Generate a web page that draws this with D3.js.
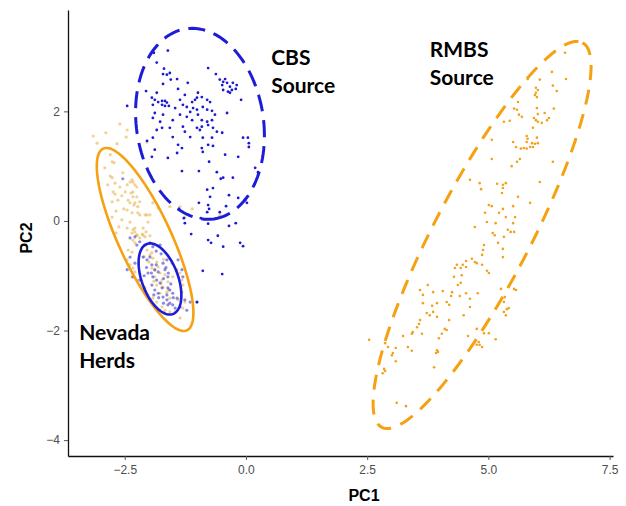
<!DOCTYPE html>
<html>
<head>
<meta charset="utf-8">
<script src="https://cdn.jsdelivr.net/npm/d3@7"></script>
<style>
  body { margin: 0; background: #fff; }
</style>
</head>
<body>
<div id="my_dataviz"></div>
<script>
// ---- data (PC1, PC2) ----
var cbsPoints = [
  [-1.90,3.07],[-1.61,3.11],[-1.84,2.89],[-0.78,2.79],[-1.69,2.78],[-1.71,2.68],[-1.63,2.67],[-1.57,2.70],[-1.55,2.58],[-1.42,2.59],
  [-1.20,2.52],[-1.71,2.50],[-0.62,2.68],[-0.54,2.58],[-0.47,2.54],[-0.43,2.59],[-0.49,2.48],[-0.39,2.52],[-0.33,2.45],[-0.27,2.52],
  [-0.19,2.48],[-0.47,2.39],[-0.37,2.36],[-0.29,2.39],[-0.21,2.41],[-0.33,2.34],[-2.06,2.37],[-1.84,2.34],[-1.40,2.41],[-0.99,2.34],
  [-0.91,2.26],[-1.01,2.25],[-0.80,2.21],[-0.74,2.17],[-1.94,2.25],[-1.88,2.21],[-1.81,2.17],[-1.73,2.19],[-1.67,2.19],[-1.63,2.16],
  [-1.73,2.12],[-1.67,2.10],[-1.59,2.10],[-1.92,2.12],[-1.30,2.12],[-1.22,2.08],[-1.11,2.17],[-1.09,2.06],[-1.01,2.03],[-0.89,2.08],
  [-0.80,2.03],[-0.70,2.01],[-0.10,2.21],[-0.39,1.97],[-1.88,1.97],[-1.71,1.94],[-1.51,1.84],[-1.36,1.94],[-1.22,1.90],[-1.11,1.84],
  [-0.99,1.94],[-0.91,1.84],[-0.80,1.81],[-0.70,1.84],[-1.92,1.88],[-1.77,1.81],[-1.30,1.72],[-1.01,1.70],[-0.91,1.72],[-0.78,1.75],
  [-0.68,1.70],[-1.84,1.66],[-1.73,1.70],[-0.60,1.63],[-0.49,1.61],[-1.92,1.52],[-1.51,1.53],[-1.15,1.53],[-0.89,1.52],[-0.70,1.52],
  [-0.06,1.52],[0.04,1.52],[-1.26,2.30],[-1.15,1.99],[-1.05,2.21],[-1.46,2.06],[-0.95,1.66],[-1.26,1.63],[-1.57,1.70],[-0.64,1.94],
  [-1.36,2.21],[-2.04,1.46],[-1.40,1.39],[-1.32,1.33],[-1.42,1.24],[-0.91,1.33],[-0.89,1.26],[-0.78,1.39],[-0.68,1.37],[0.06,1.42],
  [0.06,1.35],[-1.88,1.30],[-1.61,1.15],[-1.94,1.17],[-0.43,1.21],[-0.16,1.17],[-0.76,1.08],[-1.32,0.91],[-0.97,0.91],[-0.60,0.89],
  [-0.52,0.77],[-0.47,0.79],[-0.27,0.79],[0.19,0.97],[0.25,0.89],[-0.80,0.57],[-0.68,0.60],[-0.74,0.44],[-0.35,0.47],[-0.16,0.42],
  [-0.97,0.33],[-0.78,0.29],[-0.41,0.27],[-0.02,0.38],[0.02,0.33],[-1.38,0.22],[-0.80,0.16],[-0.76,0.22],[-1.28,0.05],[-1.26,-0.04],
  [-0.93,0.05],[-0.54,0.16],[-0.78,-0.05],[-0.35,-0.09],[-0.21,-0.04],[-1.13,-0.24],[-0.58,-0.27],[-0.78,-0.35],[-0.72,-0.40],[-0.12,-0.40],
  [-0.06,-0.46],[-0.47,-0.47],[-0.89,-0.91],[-0.49,-0.97],[-1.01,-1.48],[-2.45,2.10]
];

var rmbsPoints = [
  [6.58,3.07],[6.60,2.59],[6.31,2.72],[6.33,2.47],[6.41,2.37],[5.81,2.59],[6.06,2.58],[5.98,2.43],[6.02,2.39],[5.98,2.34],
  [5.96,2.30],[6.00,2.26],[5.61,2.17],[5.53,2.05],[5.59,2.03],[5.63,1.94],[5.69,1.90],[5.32,1.81],[5.44,1.83],[6.00,2.06],
  [6.02,1.95],[5.94,1.88],[5.98,1.84],[6.02,1.81],[6.10,1.79],[6.16,1.97],[6.21,1.84],[6.25,1.88],[6.35,2.05],[5.92,1.70],
  [5.07,1.48],[5.79,1.55],[5.81,1.50],[5.79,1.44],[5.90,1.42],[6.00,1.52],[6.02,1.42],[5.51,1.44],[5.57,1.35],[5.67,1.32],
  [5.73,1.33],[5.79,1.32],[5.86,1.35],[5.92,1.35],[5.96,1.41],[5.07,1.13],[5.65,1.13],[5.59,1.08],[5.48,1.00],[6.33,1.08],
  [4.62,0.75],[4.82,0.69],[4.85,0.58],[5.18,0.68],[5.30,0.66],[5.36,0.69],[5.30,0.60],[5.28,0.51],[6.06,0.71],[5.61,0.44],
  [5.86,0.33],[5.01,0.29],[5.07,0.27],[4.93,0.15],[5.22,0.15],[5.30,0.22],[5.51,0.27],[5.36,0.07],[5.55,0.07],[4.97,-0.02],
  [5.15,-0.04],[5.51,-0.04],[4.72,-0.11],[5.40,-0.16],[5.46,-0.20],[5.53,-0.20],[5.09,-0.22],[5.13,-0.26],[5.32,-0.29],[5.20,-0.40],
  [4.91,-0.44],[4.89,-0.53],[4.87,-0.62],[5.30,-0.51],[5.30,-0.66],[4.66,-0.69],[4.72,-0.75],[4.54,-0.73],[4.47,-0.80],[4.43,-0.86],
  [4.35,-0.80],[4.31,-0.86],[4.76,-0.77],[4.87,-0.80],[4.97,-0.91],[5.01,-0.95],[4.54,-0.84],[4.45,-0.99],[4.29,-1.02],[4.37,-1.17],
  [4.43,-1.13],[3.75,-1.17],[3.59,-1.26],[3.65,-1.35],[3.86,-1.30],[4.06,-1.28],[4.25,-1.30],[4.23,-1.37],[4.41,-1.37],[4.54,-1.32],
  [4.62,-1.42],[4.78,-1.32],[4.62,-1.57],[3.65,-1.50],[3.84,-1.55],[3.94,-1.50],[4.14,-1.48],[4.19,-1.53],[3.73,-1.68],[3.79,-1.72],
  [3.86,-1.66],[3.94,-1.75],[4.19,-1.81],[4.49,-1.72],[3.59,-1.81],[3.57,-1.88],[3.53,-1.94],[3.44,-2.03],[3.42,-2.06],[3.63,-2.06],
  [4.10,-1.97],[4.14,-1.99],[4.04,-2.06],[3.98,-2.14],[4.58,-2.10],[4.76,-1.97],[3.24,-2.10],[3.34,-2.30],[3.42,-2.37],[3.94,-2.36],
  [3.96,-2.39],[3.92,-2.41],[3.09,-2.32],[3.03,-2.41],[3.01,-2.45],[3.09,-2.56],[2.87,-2.23],[2.93,-2.30],[2.54,-2.17],[4.80,-2.21],
  [4.82,-2.26],[4.91,-2.05],[5.01,-2.05],[5.15,-2.16],[4.76,-2.26],[4.87,-2.30],[3.88,-2.67],[2.85,-2.70],[2.87,-2.74],[2.82,-2.78],
  [5.32,-1.66],[5.36,-1.72],[5.38,-1.61],[5.42,-1.59],[5.53,-1.24],[5.57,-1.26],[5.34,-1.39],[5.32,-1.48],[5.26,-1.24],[3.11,-3.32],
  [3.30,-3.38]
];

// Nevada herds, orange group (drawn semi transparent)
var nevadaOrangePoints = [
  [-2.60,1.77],[-2.89,1.61],[-3.15,1.55],[-2.45,1.66],[-3.07,1.42],[-2.66,1.41],[-2.47,1.53],[-2.04,1.44],[-2.80,1.21],[-2.76,1.08],
  [-2.72,1.06],[-2.91,0.97],[-2.54,0.88],[-2.80,0.82],[-2.76,0.79],[-2.39,0.71],[-2.33,0.71],[-2.70,0.69],[-2.85,0.66],[-2.60,0.62],
  [-2.45,0.66],[-2.25,0.62],[-2.74,0.53],[-2.70,0.49],[-2.49,0.53],[-2.37,0.51],[-2.56,0.46],[-2.33,0.44],[-2.64,0.38],[-2.43,0.38],
  [-2.39,0.33],[-2.76,0.35],[-2.29,0.33],[-2.52,0.22],[-2.45,0.20],[-2.23,0.26],[-2.68,0.18],[-2.35,0.15],[-2.19,0.11],[-2.04,0.11],
  [-1.98,0.11],[-2.76,0.07],[-2.56,0.02],[-2.39,-0.02],[-2.62,-0.11],[-2.45,-0.13],[-2.33,-0.16],[-2.12,-0.13],[-2.68,-0.22],[-2.25,-0.26],
  [-1.98,-0.27],[-2.35,0.75],[-2.29,0.66],[-2.33,0.53],[-2.25,0.44],[-2.19,0.35],[-2.31,0.29],[-2.08,0.11],[-2.02,-0.02],[-2.23,0.15],
  [-2.29,-0.13],[-2.35,-0.22],[-2.12,-0.26],[-2.19,-0.31],[-2.06,-0.20],[-1.92,0.33],[-1.81,0.24],[-1.57,0.26],[-1.36,0.26],[-1.26,0.07],
  [-1.11,0.22],[-0.54,0.11],[-2.29,-0.20],[-2.25,-0.26],[-2.14,-0.24],[-2.08,-0.29],[-2.33,-0.35],[-2.29,-0.40],[-2.43,-0.53],[-2.35,-0.57],
  [-2.45,-0.71],[-2.39,-0.80],[-2.33,-0.86],[-2.29,-0.93],[-2.35,-1.02],[-2.25,-1.08],[-2.19,-1.17],[-2.08,-1.22],[-2.02,-1.35],[-1.92,-1.41],
  [-1.84,-1.48],[-1.73,-1.57],[-1.67,-1.63],[-1.57,-1.66],[-1.46,-1.66],[-2.04,-0.53],[-1.94,-0.58],[-1.92,-0.68],[-2.00,-0.75],[-1.84,-0.75],
  [-1.81,-0.84],[-1.94,-0.86],[-1.77,-0.95],[-1.88,-1.02],[-1.73,-1.08],[-1.84,-1.17],[-1.71,-1.21],[-1.61,-1.11],[-1.63,-1.30],[-1.77,-1.32],
  [-1.57,-1.41],[-1.51,-1.02],[-1.42,-0.89],[-1.53,-0.77],[-1.32,-1.08],[-1.36,-0.95],[-1.30,-1.17],[-1.32,-1.30],[-1.40,-1.44],[-1.26,-1.48],
  [-1.30,-1.59],[-1.36,-1.77],[-1.98,-0.62],[-1.88,-0.90],[-1.67,-0.98],[-1.75,-1.15],[-1.90,-1.10],[-1.60,-1.25],[-2.10,-0.65],[-1.70,-0.70]
];

// Nevada herds, blue group (drawn semi transparent)
var nevadaBluePoints = [
  [-2.25,-0.44],[-2.19,-0.38],[-2.08,-0.44],[-1.98,-0.40],[-1.92,-0.47],[-1.77,-0.44],[-2.12,-0.66],[-2.04,-0.71],[-1.98,-0.66],[-1.94,-0.80],
  [-1.88,-0.89],[-1.81,-0.93],[-2.02,-0.95],[-1.92,-1.02],[-1.84,-1.08],[-1.77,-1.13],[-1.73,-1.22],[-1.94,-1.17],[-1.88,-1.26],[-1.81,-1.32],
  [-1.71,-1.39],[-1.63,-1.44],[-1.57,-1.50],[-1.51,-1.53],[-1.63,-1.35],[-1.51,-1.32],[-1.57,-1.26],[-1.61,-1.02],[-1.67,-0.89],[-1.71,-0.77],
  [-1.63,-0.71],[-1.61,-1.22],[-2.39,-0.66],[-2.29,-0.77],[-2.45,-0.89],[-2.33,-1.02],[-2.19,-1.08],[-1.40,-0.71],[-1.32,-0.89],[-1.30,-1.02],
  [-1.42,-1.41],[-1.26,-1.44],[-1.15,-1.48],[-1.01,-1.48],[-1.61,-1.53],[-1.46,-1.59],[-1.36,-1.57],[-1.22,-1.63],[-2.29,-0.29],[-2.39,-0.31],
  [-2.54,0.77],[-1.85,-0.55],[-1.75,-0.60],[-1.95,-0.95],[-1.70,-1.05],[-1.80,-1.40],[-1.55,-1.15],[-1.65,-0.85],[-2.05,-0.85],[-1.90,-1.35],
  [-1.50,-1.40],[-1.70,-1.50],[-2.10,-1.00],[-1.85,-0.80],[-1.60,-0.95]
];

// ellipses: center, first and second semi-axis vectors (data units)
var ellipseCenters = [[-0.948, 1.772], [4.87, -0.256], [-2.08, -0.338], [-1.773, -1.059]];
var ellipseAxisA   = [[0.289, -1.735], [2.07, 3.51], [0.864, -1.658], [0.268, -0.639]];
var ellipseAxisB   = [[1.297, 0.170], [0.877, -0.406], [0.496, 0.203], [0.350, 0.115]];
var ellipseColors  = ["#1c1cd9", "#f5a112", "#f5a112", "#1c1cd9"];
var ellipseDashes  = ["17,9", "15,10", null, null];

var xTicks = [-2.5, 0, 2.5, 5, 7.5];
var yTicks = [-4, -2, 0, 2];

var labels = [
  {lines: ["CBS", "Source"], x: 0.52, y: 2.85},
  {lines: ["RMBS", "Source"], x: 3.79, y: 3.0},
  {lines: ["Nevada", "Herds"], x: -3.44, y: -2.18}
];

var axisFont = "'Liberation Sans', Arial, sans-serif";

// set the dimensions of the graph
var W = 626, H = 506;
var svg = d3.select("#my_dataviz")
  .append("svg")
    .attr("width", W)
    .attr("height", H);

var x = d3.scaleLinear().domain([-3.67, 7.57]).range([68, 613]);
var y = d3.scaleLinear().domain([-4.29, 3.85]).range([456, 10]);

var fmtMinus = function(s) { return s.replace("-", "\u2212"); };

// X axis
var gx = svg.append("g")
  .attr("transform", "translate(0,456)")
  .call(d3.axisBottom(x).tickValues(xTicks).tickSize(4).tickSizeOuter(0)
    .tickFormat(function(d) { return fmtMinus(d3.format(".1f")(d)); }));
gx.select(".domain").attr("stroke", "#111").attr("stroke-width", 1.3);
gx.selectAll(".tick line").attr("stroke", "#555");
gx.selectAll(".tick text").attr("fill", "#4d4d4d")
  .style("font-family", axisFont).style("font-size", "12px").attr("dy", "0.9em");

// Y axis
var gy = svg.append("g")
  .attr("transform", "translate(68,0)")
  .call(d3.axisLeft(y).tickValues(yTicks).tickSize(4).tickSizeOuter(0)
    .tickFormat(function(d) { return fmtMinus(String(d)); }));
gy.select(".domain").attr("stroke", "#111").attr("stroke-width", 1.3);
gy.selectAll(".tick line").attr("stroke", "#555");
gy.selectAll(".tick text").attr("fill", "#4d4d4d")
  .style("font-family", axisFont).style("font-size", "12px").attr("x", -8);

// axis titles
svg.append("text")
  .attr("x", 364).attr("y", 501)
  .attr("text-anchor", "middle")
  .style("font-family", axisFont)
  .style("font-size", "16px").style("font-weight", "bold")
  .text("PC1");
svg.append("text")
  .attr("transform", "translate(32,238) rotate(-90)")
  .attr("text-anchor", "middle")
  .style("font-family", axisFont)
  .style("font-size", "16px").style("font-weight", "bold")
  .text("PC2");

// points
function drawPoints(data, color, r, op) {
  svg.append("g")
    .selectAll("circle")
    .data(data)
    .enter().append("circle")
      .attr("cx", function(d) { return x(d[0]); })
      .attr("cy", function(d) { return y(d[1]); })
      .attr("r", r)
      .attr("fill", color)
      .attr("fill-opacity", op);
}
drawPoints(nevadaOrangePoints, "#e3ad3c", 1.6, 0.55);
drawPoints(nevadaBluePoints, "#2a2ac8", 1.6, 0.55);
drawPoints(cbsPoints, "#1a1ad2", 1.4, 1);
drawPoints(rmbsPoints, "#f3a11c", 1.3, 1);

// ellipses
var ts = d3.range(0, 360, 3).map(function(a) { return a * Math.PI / 180; });
var line = d3.line().curve(d3.curveLinearClosed);
ellipseCenters.forEach(function(c, i) {
  var a = ellipseAxisA[i], b = ellipseAxisB[i];
  var pts = ts.map(function(t) {
    var px = c[0] + a[0] * Math.cos(t) + b[0] * Math.sin(t);
    var py = c[1] + a[1] * Math.cos(t) + b[1] * Math.sin(t);
    return [x(px), y(py)];
  });
  svg.append("path")
    .attr("d", line(pts))
    .attr("fill", "none")
    .attr("stroke", ellipseColors[i])
    .attr("stroke-width", ellipseDashes[i] ? 3 : 2.6)
    .attr("stroke-dasharray", ellipseDashes[i]);
});

// text annotations
labels.forEach(function(l) {
  var t = svg.append("text")
    .attr("x", x(l.x)).attr("y", y(l.y))
    .style("font-family", "Lato, 'Open Sans', sans-serif")
    .style("font-size", "21px").style("font-weight", "bold")
    .attr("fill", "#000");
  l.lines.forEach(function(s, k) {
    t.append("tspan").attr("x", x(l.x)).attr("dy", k === 0 ? 0 : 28).text(s);
  });
});
</script>
</body>
</html>
